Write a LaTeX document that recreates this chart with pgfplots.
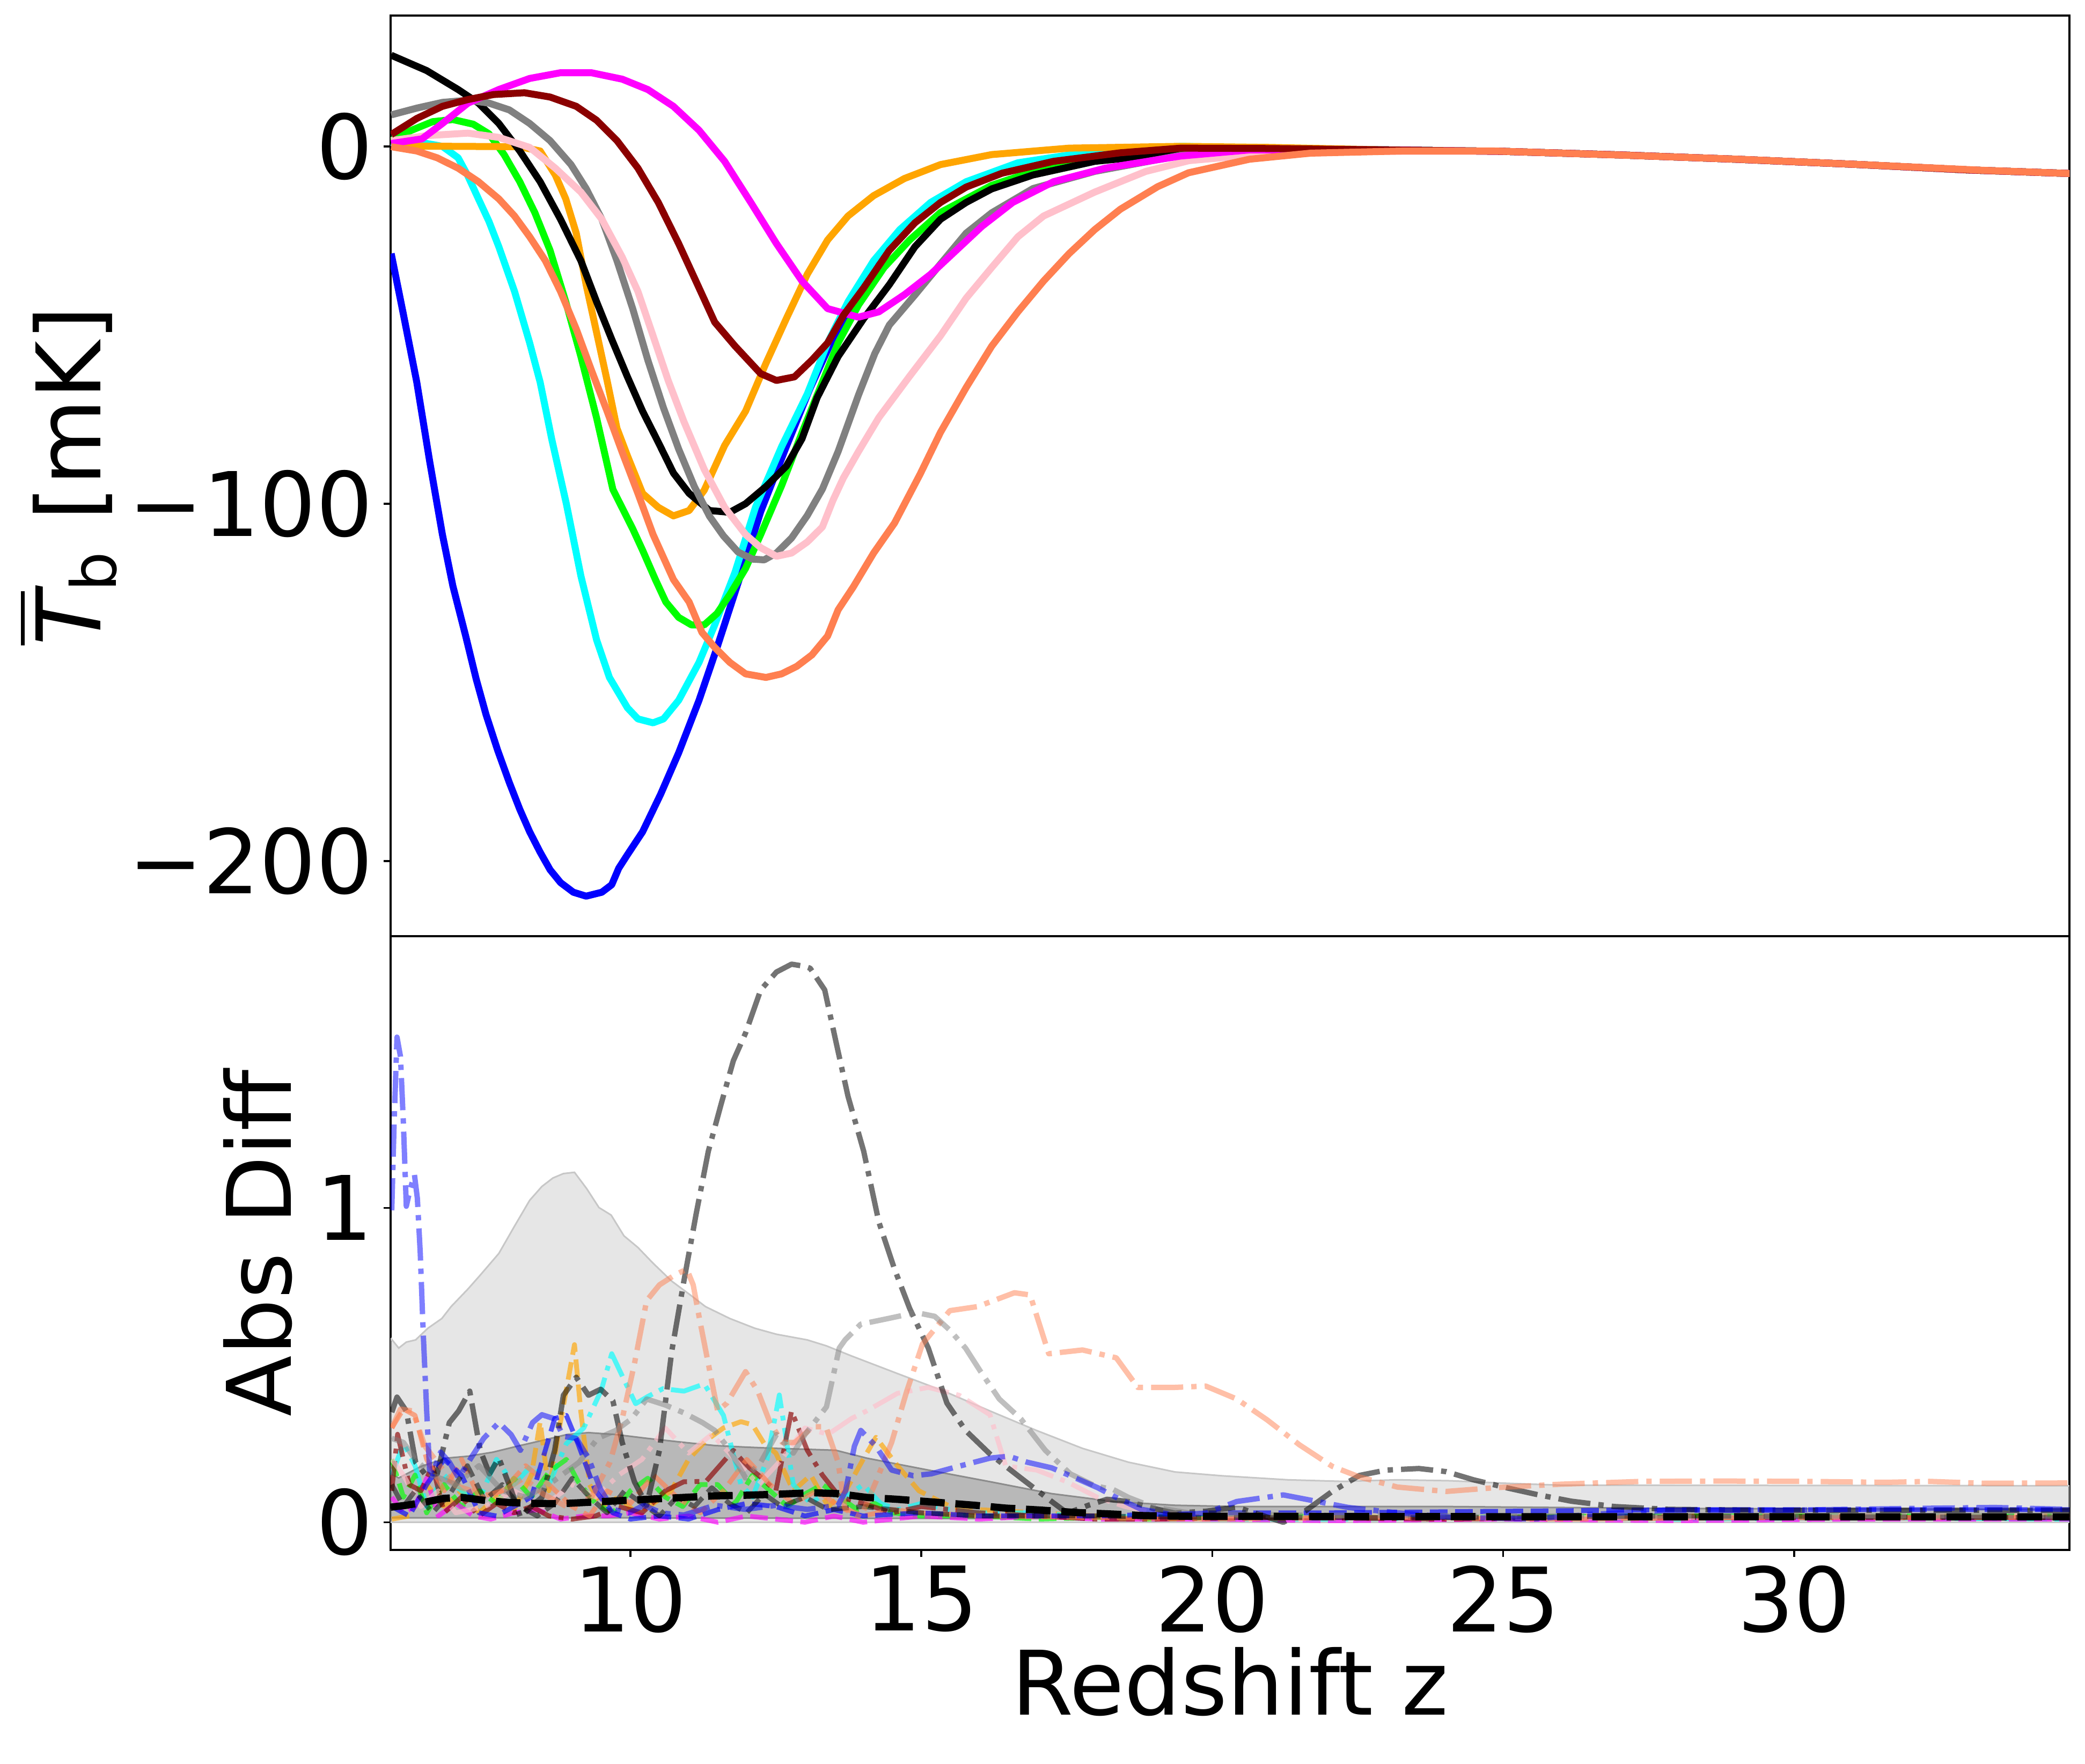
\documentclass[border=0pt]{standalone}
\usepackage{amsmath}
\usepackage{pgfplots}
\pgfplotsset{compat=1.18}
\usepackage{fontspec}
\setmainfont{DejaVu Sans}
\definecolor{mplorange}{HTML}{FFA500}
\definecolor{mplcoral}{HTML}{FF7F50}
\definecolor{mplpink}{HTML}{FFC0CB}
\definecolor{mplgray}{HTML}{808080}
\definecolor{mpldarkred}{HTML}{8B0000}
\definecolor{mpllime}{HTML}{00FF00}
\definecolor{mplcyan}{HTML}{00FFFF}
\definecolor{mplmagenta}{HTML}{FF00FF}
\definecolor{mplblue}{HTML}{0000FF}
\newcommand{\bigfont}{\fontsize{16.6}{20}\selectfont}
\pgfplotsset{
  common/.style={
    scale only axis, width=312.9pt,
    xmin=5.88, xmax=34.73,
    tick align=outside, xtick pos=left, ytick pos=left,
    major tick length=1.3pt,
    axis line style={line width=0.35pt},
    every tick/.style={black, line width=0.35pt},
    tick label style={font=\bigfont},
    label style={font=\bigfont, inner sep=0pt},
    yticklabel style={anchor=east, inner sep=0pt, xshift=-1.8pt},
    xticklabel style={anchor=north, inner sep=0pt, yshift=-1.4pt},
    minor tick num=0,
  },
  topline/.style={line width=1.3pt, line join=round},
  dd/.style={line width=1.0pt, line join=round, dash pattern=on 6pt off 1.5pt on 1pt off 1.5pt},
  nd/.style={line width=0.9pt, line join=round, opacity=0.65, dash pattern=on 3.3pt off 1.4pt},
  ndd/.style={line width=0.9pt, line join=round, opacity=0.65, dash pattern=on 5.6pt off 1.4pt on 0.9pt off 1.4pt},
}
\begin{document}
\bigfont
\begin{tikzpicture}[font=\bigfont]
\path (-72.8pt,2.9pt) rectangle (315.8pt,-325.9pt);
% ---------------- top panel ----------------
\begin{axis}[common,
  at={(0pt,0pt)}, anchor=north west, height=171.6pt,
  ymin=-221, ymax=36.6,
  xtick=\empty,
  ytick={-200,-100,0}, yticklabels={−200,−100,0},
  ylabel={$\overline{\text{\itshape T}}_{\text{b}}$ [mK]},
  ylabel style={at={(axis description cs:-0.1726,0.5)}, anchor=base},
]
\addplot[topline, mplblue] coordinates {(5.89,-30) (6.1,-47) (6.33,-66) (6.55,-88) (6.77,-108.6) (6.95,-123) (7.17,-137) (7.35,-149) (7.52,-159) (7.72,-169) (7.92,-178) (8.1,-185.5) (8.27,-191.8) (8.45,-197.5) (8.62,-202.4) (8.8,-206) (9.02,-208.7) (9.24,-209.8) (9.51,-208.7) (9.68,-206.6) (9.8,-202) (9.95,-198.2) (10.21,-191.8) (10.52,-181.3) (10.83,-169.7) (11.18,-155) (11.49,-140.2) (11.89,-120.2) (12.24,-102.2) (12.68,-84) (13.08,-68) (13.5,-53) (14.1,-36) (14.63,-24.3) (15.33,-14.7) (16.2,-8) (17.1,-4.2) (18.2,-1.8) (19.46,-0.5) (21,-0.6) (23,-1.0) (25,-1.4) (27,-2.4) (29,-3.6) (31,-5.0) (33,-6.6) (34.75,-7.6)};
\addplot[topline, mplcyan] coordinates {(5.89,1.1) (6.15,0.3) (6.5,0.8) (6.77,0) (7.04,-3.2) (7.2,-8) (7.39,-14.7) (7.57,-21) (7.74,-28.1) (8.01,-40.6) (8.27,-55) (8.45,-66) (8.65,-82) (8.9,-100) (9.15,-120.2) (9.42,-138.1) (9.64,-148.6) (9.95,-157.1) (10.13,-160.2) (10.39,-161.3) (10.57,-160.2) (10.83,-155) (11.18,-144.4) (11.45,-133.9) (11.8,-119.1) (12.15,-101) (12.6,-84) (13.04,-69.3) (13.39,-55) (13.74,-43.5) (14.18,-32) (14.63,-23.3) (15.16,-15.7) (15.77,-9.9) (16.66,-4.6) (17.98,-1.3) (19.46,0) (21,-0.5) (23,-1.0) (25,-1.4) (27,-2.4) (29,-3.6) (31,-5.0) (33,-6.6) (34.75,-7.6)};
\addplot[topline, mpllime] coordinates {(5.89,1.6) (6.24,4.5) (6.6,6.9) (6.95,7.5) (7.3,6.2) (7.57,3.5) (7.83,-2.3) (8.1,-9.9) (8.36,-18.6) (8.62,-29.1) (8.89,-43.5) (9.15,-58.8) (9.42,-76) (9.7,-96) (10.04,-107) (10.21,-113) (10.43,-121.2) (10.61,-127.5) (10.83,-131.8) (11.05,-133.9) (11.27,-133.9) (11.49,-130.7) (11.71,-125.4) (11.98,-118.1) (12.24,-108.6) (12.6,-94.9) (12.95,-80.1) (13.3,-66) (13.57,-55) (13.92,-44.4) (14.36,-33.9) (14.8,-26.2) (15.33,-18.5) (16.21,-10.9) (17.1,-6.1) (18.42,-2.3) (19.46,-1) (21,-0.7) (23,-1.0) (25,-1.4) (27,-2.4) (29,-3.6) (31,-5.0) (33,-6.6) (34.75,-7.6)};
\addplot[topline, mplorange] coordinates {(5.89,0.1) (7.0,0.0) (8.1,-0.1) (8.45,-1.3) (8.71,-8) (8.89,-14.7) (9.07,-24.3) (9.24,-38.7) (9.42,-52.1) (9.6,-65.5) (9.77,-78.9) (9.95,-86.6) (10.21,-97.1) (10.48,-101) (10.74,-103.4) (11.01,-101.9) (11.27,-96.2) (11.62,-83.7) (11.98,-74.1) (12.33,-60.7) (12.68,-48.2) (13.04,-35.8) (13.39,-26.2) (13.74,-19.5) (14.18,-13.8) (14.71,-9) (15.33,-5.1) (16.21,-2.3) (17.54,-0.5) (19.46,0) (21,-0.3) (23,-1.0) (25,-1.4) (27,-2.4) (29,-3.6) (31,-5.0) (33,-6.6) (34.75,-7.6)};
\addplot[topline, black] coordinates {(5.89,25.5) (6.5,21.2) (7.04,15.9) (7.39,12.1) (7.74,6.4) (8.1,-1.3) (8.45,-9.9) (8.8,-20.4) (9.15,-32) (9.42,-43.5) (9.68,-54) (9.95,-64.5) (10.21,-74.1) (10.48,-82.8) (10.74,-91.4) (11.01,-97.1) (11.36,-101.9) (11.71,-102.4) (11.98,-100) (12.33,-95.2) (12.68,-89.5) (12.95,-81.8) (13.21,-70.3) (13.57,-58.8) (14.01,-48.2) (14.45,-38.7) (14.89,-28.1) (15.33,-20.4) (15.77,-15.7) (16.21,-11.9) (16.92,-8) (17.98,-4.2) (19.46,-1.8) (21,-0.9) (23,-1.0) (25,-1.4) (27,-2.4) (29,-3.6) (31,-5.0) (33,-6.6) (34.75,-7.6)};
\addplot[topline, mplgray] coordinates {(5.89,8.8) (6.33,10.7) (6.77,12.3) (7.21,12.9) (7.57,12.1) (7.92,10.2) (8.27,6.4) (8.62,1.6) (8.98,-5.1) (9.24,-11.8) (9.51,-20.4) (9.77,-32) (10.04,-45.4) (10.3,-59.8) (10.57,-73.2) (10.83,-84.7) (11.1,-95.2) (11.36,-103.5) (11.6,-109) (11.85,-113.5) (12.1,-115.5) (12.3,-115.7) (12.51,-113.8) (12.77,-109.6) (13.04,-103.3) (13.3,-95.9) (13.57,-85.4) (13.92,-69.6) (14.2,-58) (14.45,-50) (14.89,-41.6) (15.33,-32.9) (15.77,-24.3) (16.21,-18.6) (16.92,-11.8) (17.98,-7) (19.46,-2.5) (20.12,-1.2) (21.5,-0.9) (23,-1.0) (25,-1.4) (27,-2.4) (29,-3.6) (31,-5.0) (33,-6.6) (34.75,-7.6)};
\addplot[topline, mplpink] coordinates {(5.89,1.6) (6.5,3) (7.21,3.7) (7.74,2.5) (8.27,-0.3) (8.71,-6.1) (9.15,-12.8) (9.51,-20.4) (9.86,-31) (10.13,-40.6) (10.39,-53) (10.65,-65.5) (10.92,-77) (11.27,-90.4) (11.62,-101) (11.98,-108.6) (12.24,-112.3) (12.51,-114.7) (12.77,-113.8) (13.04,-110.7) (13.3,-106.5) (13.48,-99.1) (13.66,-92.8) (13.92,-85.4) (14.27,-75.9) (14.8,-64.3) (15.33,-53) (15.77,-42.5) (16.21,-33.9) (16.66,-25.3) (17.1,-19.5) (17.98,-12.8) (18.86,-7) (19.6,-4) (20.64,-2.5) (21.69,-1.9) (22.74,-1.4) (25,-1.4) (27,-2.4) (29,-3.6) (31,-5.0) (33,-6.6) (34.75,-7.6)};
\addplot[topline, mplmagenta] coordinates {(5.89,0.8) (6.42,2.1) (6.77,6.4) (7.21,12.1) (7.74,15.9) (8.27,19) (8.8,20.6) (9.33,20.6) (9.86,18.8) (10.3,15.9) (10.74,11.2) (11.18,4.5) (11.62,-4.2) (12.07,-15.7) (12.51,-27.2) (12.95,-37.7) (13.39,-45.4) (13.92,-47.8) (14.27,-46.3) (14.71,-41.5) (15.16,-35.8) (15.6,-29.1) (16.04,-22.4) (16.57,-15.7) (17.27,-9.9) (18.16,-6.1) (19.46,-2.7) (20.64,-1.0) (23,-1.0) (25,-1.4) (27,-2.4) (29,-3.6) (31,-5.0) (33,-6.6) (34.75,-7.6)};
\addplot[topline, mpldarkred] coordinates {(5.89,3.3) (6.33,7.8) (6.77,11.2) (7.21,13.1) (7.65,14.5) (8.18,15) (8.62,13.8) (9.07,11.2) (9.42,7.3) (9.77,1.6) (10.13,-6.1) (10.48,-15.7) (10.83,-27.2) (11.18,-39.6) (11.45,-49.2) (11.8,-55.9) (12.24,-63.6) (12.51,-65.5) (12.82,-64.5) (13.12,-59.8) (13.39,-55) (13.66,-47.3) (14.01,-39.6) (14.45,-29.1) (14.89,-21.4) (15.33,-15.7) (15.77,-11.4) (16.39,-7.5) (17.27,-4.2) (18.42,-1.8) (19.46,-0.5) (21,-0.6) (23,-1.0) (25,-1.4) (27,-2.4) (29,-3.6) (31,-5.0) (33,-6.6) (34.75,-7.6)};
\addplot[topline, mplcoral] coordinates {(5.89,-0.1) (6.33,-1.3) (6.68,-3.2) (7.04,-6.1) (7.39,-9.9) (7.74,-14.7) (8.01,-19.5) (8.27,-25.3) (8.54,-32) (8.8,-40.6) (9.07,-51.1) (9.33,-62.6) (9.6,-74.1) (9.86,-85.6) (10.13,-97.1) (10.39,-108.6) (10.74,-121.2) (11.01,-127.5) (11.23,-136) (11.45,-140.2) (11.71,-144.4) (11.98,-147.6) (12.33,-148.6) (12.6,-147.6) (12.86,-145.5) (13.12,-142.3) (13.39,-137) (13.57,-129.7) (13.83,-123.3) (14.18,-113.8) (14.54,-105.4) (14.98,-91.7) (15.33,-80) (15.77,-67.5) (16.21,-55.9) (16.66,-46.3) (17.1,-37.7) (17.54,-30) (17.98,-23.3) (18.42,-17.6) (19.06,-11.3) (19.59,-7.4) (20.64,-3.6) (21.69,-1.9) (23.27,-1.3) (24.84,-1.3) (26.94,-2.4) (29.04,-3.6) (31.15,-5.1) (33.25,-6.7) (34.75,-7.6)};
\end{axis}
% ---------------- bottom panel ----------------
\begin{axis}[common,
  at={(0pt,-171.6pt)}, anchor=north west, height=114.4pt,
  ymin=-0.088, ymax=1.864,
  xtick={10,15,20,25,30}, xticklabels={10,15,20,25,30},
  ytick={0,1}, yticklabels={0,1},
  xlabel={Redshift z},
  xlabel style={at={(axis description cs:0.5,-0.2684)}, anchor=base},
  ylabel={Abs Diff},
  ylabel style={at={(axis description cs:-0.0594,0.5)}, anchor=base},
]
% bands
\addplot[fill=mplgray, fill opacity=0.2, draw=black!22, line width=0.3pt] coordinates {(5.88,0.586) (6.02,0.554) (6.15,0.573) (6.31,0.58) (6.52,0.617) (6.76,0.648) (6.92,0.686) (7.21,0.742) (7.42,0.786) (7.74,0.855) (8.01,0.942) (8.27,1.024) (8.48,1.068) (8.67,1.095) (8.85,1.109) (9.04,1.113) (9.25,1.061) (9.46,1.001) (9.67,0.977) (9.89,0.911) (10.13,0.874) (10.39,0.824) (10.71,0.767) (11.03,0.723) (11.29,0.686) (11.71,0.648) (12.14,0.617) (12.51,0.598) (13.04,0.58) (13.37,0.561) (13.8,0.529) (14.59,0.473) (15.39,0.417) (16.18,0.354) (16.98,0.292) (17.77,0.235) (18.56,0.191) (19.36,0.16) (20.15,0.148) (21.3,0.135) (22.25,0.13) (23.18,0.135) (24.1,0.132) (25.05,0.124) (25.98,0.118) (34.73,0.116) (34.73,0.0) (5.88,0.0) (5.88,0.586)};
\addplot[fill=mplgray, fill opacity=0.45, draw=black!45, line width=0.3pt] coordinates {(5.88,0.154) (6.02,0.141) (6.42,0.179) (6.84,0.204) (7.21,0.21) (7.64,0.223) (8.06,0.242) (8.48,0.26) (8.91,0.279) (9.28,0.285) (9.75,0.279) (10.28,0.267) (10.92,0.254) (11.45,0.244) (11.98,0.239) (12.51,0.235) (13.04,0.232) (13.53,0.229) (14.06,0.204) (15.12,0.166) (16.18,0.129) (17.24,0.091) (18.3,0.066) (19.36,0.054) (20.4,0.05) (24,0.05) (27.85,0.044) (34.73,0.041) (34.73,0.008) (22,0.009) (16,0.012) (10,0.014) (5.88,0.014) (5.88,0.154)};
% noisy per-model lines
\addplot[nd, mplorange] coordinates {(5.9,0.01) (6.2,0.02) (6.5,0.12) (6.8,0.05) (7.1,0.1) (7.4,0.03) (7.7,0.08) (8.0,0.04) (8.3,0.15) (8.45,0.32) (8.6,0.1) (8.8,0.32) (9.04,0.565) (9.15,0.35) (9.3,0.12) (9.5,0.05) (9.8,0.08) (10.1,0.03) (10.4,0.06) (10.7,0.1) (11.0,0.2) (11.3,0.26) (11.6,0.30) (11.9,0.32) (12.1,0.31) (12.3,0.25) (12.5,0.22) (12.8,0.1) (13.1,0.15) (13.4,0.05) (13.7,0.1) (14.0,0.2) (14.22,0.27) (14.59,0.18) (14.96,0.1) (15.5,0.05) (16,0.04) (17,0.03) (18,0.02) (19,0.01) (20,0.02) (22,0.02) (25,0.015) (28,0.02) (31,0.02) (34.73,0.02)};
\addplot[ndd, mplcyan] coordinates {(5.9,0.15) (6.1,0.25) (6.3,0.18) (6.5,0.05) (6.8,0.15) (7.1,0.1) (7.4,0.07) (7.7,0.2) (8.0,0.12) (8.3,0.18) (8.6,0.12) (8.9,0.25) (9.2,0.3) (9.5,0.42) (9.68,0.536) (9.9,0.45) (10.09,0.377) (10.3,0.4) (10.56,0.425) (10.92,0.417) (11.27,0.44) (11.6,0.34) (11.9,0.12) (12.1,0.08) (12.35,0.2) (12.56,0.405) (12.8,0.12) (13.1,0.06) (13.4,0.1) (13.7,0.08) (14.0,0.12) (14.3,0.06) (14.6,0.04) (15.0,0.06) (15.5,0.04) (16,0.03) (17,0.03) (18,0.015) (19,0.02) (20,0.01) (22,0.01) (25,0.015) (28,0.01) (31,0.015) (34.73,0.01)};
\addplot[nd, mpllime] coordinates {(5.9,0.2) (6.1,0.08) (6.3,0.15) (6.5,0.03) (6.8,0.12) (7.1,0.05) (7.4,0.1) (7.7,0.06) (8.0,0.14) (8.3,0.08) (8.6,0.16) (8.9,0.2) (9.1,0.13) (9.4,0.06) (9.7,0.03) (10.0,0.1) (10.3,0.14) (10.6,0.08) (10.9,0.05) (11.2,0.12) (11.5,0.12) (11.8,0.06) (12.1,0.15) (12.4,0.1) (12.7,0.05) (13.0,0.09) (13.3,0.12) (13.6,0.08) (13.9,0.04) (14.2,0.06) (14.5,0.03) (15,0.02) (16,0.02) (17,0.01) (18,0.015) (19,0.01) (21,0.02) (24,0.015) (27,0.02) (30,0.02) (34.73,0.02)};
\addplot[nd, mplmagenta] coordinates {(5.9,0.08) (6.1,0.03) (6.3,0.05) (6.5,0.14) (6.7,0.02) (7.0,0.06) (7.3,0.02) (7.6,0.01) (8.0,0.03) (8.4,0.04) (8.8,0.01) (9.2,0.02) (9.6,0.02) (10.0,0.03) (10.5,0.01) (11,0.02) (11.5,0.0) (12,0.02) (12.5,0.01) (13,0.0) (13.5,0.02) (14,0.0) (14.5,0.01) (15,0.02) (16,0.01) (17,0.02) (18,0.01) (20,0.01) (22,0.005) (25,0.01) (28,0.005) (31,0.01) (34.73,0.01)};
\addplot[ndd, mpldarkred] coordinates {(5.9,0.1) (6.0,0.28) (6.2,0.12) (6.4,0.1) (6.6,0.18) (6.8,0.03) (7.1,0.08) (7.4,0.02) (7.7,0.06) (8.0,0.03) (8.3,0.05) (8.6,0.02) (9.0,0.01) (9.4,0.02) (9.8,0.05) (10.2,0.03) (10.6,0.1) (10.92,0.129) (11.3,0.13) (11.77,0.229) (12.0,0.18) (12.2,0.15) (12.5,0.1) (12.77,0.354) (13.04,0.229) (13.3,0.15) (13.6,0.08) (14.0,0.06) (14.5,0.03) (15,0.05) (16,0.03) (17,0.02) (18,0.01) (19,0.01) (21,0.015) (24,0.01) (27,0.015) (30,0.015) (34.73,0.015)};
\addplot[ndd, mplpink] coordinates {(5.9,0.2) (6.1,0.15) (6.4,0.05) (6.7,0.1) (7.0,0.03) (7.5,0.05) (8,0.1) (8.5,0.05) (9.0,0.12) (9.4,0.08) (9.8,0.15) (10.2,0.2) (10.6,0.3) (11.0,0.22) (11.4,0.28) (11.8,0.2) (12.2,0.12) (12.6,0.2) (13.0,0.3) (13.4,0.28) (13.8,0.33) (14.06,0.354) (14.59,0.41) (15.12,0.429) (15.65,0.404) (16.18,0.342) (16.45,0.179) (16.98,0.166) (17.5,0.129) (18.03,0.079) (18.5,0.05) (19,0.03) (20,0.02) (22,0.02) (25,0.015) (28,0.015) (31,0.02) (34.73,0.02)};
\addplot[nd, mplcoral] coordinates {(5.9,0.3) (6.1,0.36) (6.3,0.34) (6.5,0.2) (6.8,0.1) (7.1,0.2) (7.4,0.08) (7.8,0.1) (8.2,0.18) (8.6,0.12) (9.0,0.05) (9.3,0.02) (9.6,0.1) (10.0,0.06) (10.4,0.15) (10.8,0.08) (11.2,0.03) (11.6,0.1) (12.0,0.2) (12.4,0.12) (12.8,0.06) (13.2,0.1) (13.6,0.05) (14.0,0.02) (14.5,0.04) (15,0.03) (16,0.02) (18,0.015) (20,0.01) (23,0.015) (26,0.01) (30,0.015) (34.73,0.015)};
\addplot[nd, mplblue] coordinates {(5.9,0.05) (6.2,0.02) (6.5,0.12) (6.8,0.2) (7.1,0.15) (7.4,0.03) (7.7,0.02) (8.0,0.05) (8.3,0.08) (8.7,0.33) (8.9,0.34) (9.1,0.25) (9.4,0.1) (9.7,0.03) (10,0.01) (10.5,0.02) (11,0.01) (11.5,0.04) (12,0.06) (12.5,0.05) (13.0,0.02) (13.5,0.04) (14,0.02) (15,0.03) (16,0.02) (18,0.02) (20,0.03) (22,0.03) (25,0.035) (28,0.04) (31,0.04) (34.73,0.04)};
\addplot[nd, black, opacity=0.5] coordinates {(5.9,0.12) (6.1,0.05) (6.3,0.1) (6.6,0.03) (6.9,0.09) (7.2,0.18) (7.5,0.07) (7.8,0.12) (8.1,0.05) (8.4,0.02) (8.7,0.06) (9.0,0.14) (9.3,0.08) (9.6,0.03) (9.9,0.1) (10.2,0.06) (10.5,0.02) (10.8,0.08) (11.1,0.05) (11.4,0.11) (11.7,0.06) (12.0,0.03) (12.3,0.09) (12.6,0.05) (13.0,0.08) (13.4,0.04) (14,0.05) (15,0.03) (16,0.02) (18,0.02) (20,0.015) (24,0.015) (28,0.02) (34.73,0.015)};
% prominent dash-dot lines
\addplot[dd, black, opacity=0.55] coordinates {(5.9,0.35) (5.99,0.398) (6.15,0.354) (6.31,0.191) (6.47,0.154) (6.68,0.154) (6.89,0.317) (7.05,0.354) (7.24,0.417) (7.42,0.229) (7.58,0.154) (7.74,0.204) (7.95,0.104) (8.11,0.016) (8.32,0.054) (8.48,0.079) (8.7,0.229) (8.85,0.404) (9.07,0.461) (9.28,0.404) (9.49,0.423) (9.7,0.386) (9.86,0.254) (10.07,0.129) (10.28,0.054) (10.5,0.229) (10.71,0.542) (10.92,0.767) (11.13,0.98) (11.34,1.18) (11.56,1.33) (11.77,1.468) (11.98,1.556) (12.24,1.693) (12.51,1.75) (12.77,1.775) (13.0,1.768) (13.09,1.762) (13.34,1.693) (13.53,1.531) (13.74,1.355) (14.01,1.18) (14.27,0.955) (14.54,0.805) (14.8,0.68) (15.12,0.554) (15.44,0.379) (15.76,0.292) (16.18,0.217) (16.71,0.141) (17.24,0.066) (17.51,0.029) (17.87,0.054) (18.19,0.073) (18.56,0.066) (18.99,0.044) (19.36,0.029) (19.89,0.035) (20.42,0.048) (21.22,0.0) (21.6,0.036) (22.06,0.098) (22.53,0.149) (22.99,0.166) (23.55,0.171) (24.02,0.161) (24.49,0.135) (25.05,0.11) (25.61,0.087) (26.17,0.067) (26.91,0.05) (27.85,0.041) (29.71,0.038) (34.73,0.038)};
\addplot[dd, mplcoral, opacity=0.5] coordinates {(5.9,0.3) (6.05,0.36) (6.26,0.354) (6.47,0.242) (6.68,0.191) (7.0,0.116) (7.21,0.104) (7.48,0.079) (7.85,0.104) (8.17,0.141) (8.5,0.09) (8.9,0.05) (9.33,0.079) (9.65,0.191) (9.86,0.329) (10.07,0.504) (10.28,0.705) (10.5,0.755) (10.76,0.786) (10.97,0.805) (11.08,0.755) (11.18,0.655) (11.34,0.504) (11.5,0.354) (11.66,0.379) (11.98,0.479) (12.19,0.417) (12.4,0.317) (12.61,0.254) (12.83,0.254) (13.14,0.304) (13.36,0.304) (13.57,0.191) (13.69,0.041) (13.96,0.016) (14.22,0.129) (14.49,0.254) (14.75,0.417) (15.02,0.567) (15.49,0.673) (15.97,0.686) (16.6,0.73) (16.87,0.723) (17.19,0.536) (17.77,0.548) (18.35,0.523) (18.72,0.429) (19.36,0.429) (19.89,0.433) (20.42,0.392) (20.94,0.326) (21.5,0.246) (22.06,0.178) (22.53,0.144) (23.18,0.112) (24.02,0.098) (24.86,0.11) (25.98,0.121) (27.38,0.13) (28.78,0.131) (30.18,0.13) (31.58,0.127) (32.32,0.13) (33.25,0.124) (34.73,0.125)};
\addplot[dd, mplgray, opacity=0.5] coordinates {(5.9,0.267) (6.1,0.254) (6.3,0.2) (6.6,0.15) (7.0,0.12) (7.4,0.18) (7.8,0.1) (8.2,0.08) (8.6,0.12) (9.12,0.191) (9.44,0.267) (9.75,0.292) (10.02,0.329) (10.28,0.392) (10.6,0.373) (10.92,0.348) (11.24,0.317) (11.45,0.292) (11.71,0.229) (11.98,0.141) (12.24,0.191) (12.51,0.279) (12.8,0.22) (13.0,0.279) (13.37,0.367) (13.59,0.554) (13.69,0.58) (13.96,0.63) (14.43,0.648) (14.91,0.667) (15.23,0.655) (15.49,0.611) (15.76,0.554) (16.02,0.479) (16.34,0.392) (16.71,0.329) (17.13,0.229) (17.56,0.154) (17.98,0.116) (18.3,0.104) (18.56,0.079) (18.99,0.048) (19.62,0.029) (21.31,0.023) (25,0.02) (30,0.02) (34.73,0.02)};
\addplot[dd, mplblue, opacity=0.5] coordinates {(5.9,0.992) (5.94,1.268) (5.99,1.543) (6.05,1.481) (6.1,1.268) (6.15,1.005) (6.21,1.055) (6.29,1.105) (6.34,1.03) (6.39,0.855) (6.44,0.605) (6.5,0.354) (6.55,0.166) (6.6,0.154) (6.74,0.223) (6.89,0.191) (7.05,0.141) (7.26,0.204) (7.48,0.267) (7.74,0.317) (7.95,0.279) (8.11,0.229) (8.32,0.317) (8.48,0.342) (8.7,0.329) (8.85,0.273) (9.07,0.267) (9.28,0.204) (9.49,0.104) (9.7,0.041) (9.97,0.029) (10.23,0.054) (10.55,0.029) (10.92,0.023) (11.45,0.054) (11.98,0.041) (12.51,0.054) (13.04,0.041) (13.57,0.054) (13.7,0.1) (13.85,0.242) (13.96,0.292) (14.22,0.242) (14.49,0.166) (14.86,0.148) (15.17,0.154) (15.54,0.173) (16.18,0.204) (16.5,0.21) (16.82,0.191) (17.24,0.173) (17.56,0.148) (18.03,0.11) (18.35,0.079) (18.78,0.041) (19.36,0.023) (19.89,0.029) (20.42,0.066) (21.22,0.087) (21.78,0.067) (22.34,0.047) (23.18,0.03) (24.11,0.016) (25.51,0.01) (26.5,0.025) (27.85,0.038) (29.71,0.038) (32.04,0.044) (33.44,0.047) (34.73,0.041)};
% mean
\addplot[black, line width=1.35pt, dash pattern=on 4.6pt off 2pt] coordinates {(5.88,0.048) (6.15,0.054) (6.47,0.064) (6.79,0.076) (7.11,0.079) (7.48,0.07) (7.9,0.063) (8.38,0.06) (8.8,0.059) (9.33,0.064) (9.86,0.069) (10.39,0.074) (10.92,0.079) (11.45,0.084) (11.98,0.086) (12.51,0.089) (13.14,0.094) (13.57,0.091) (14.06,0.079) (14.59,0.073) (15.23,0.064) (15.92,0.054) (16.45,0.045) (17.03,0.039) (17.66,0.031) (18.3,0.026) (18.83,0.021) (19.62,0.019) (20.68,0.019) (22,0.018) (34.73,0.017)};
\end{axis}
\end{tikzpicture}
\end{document}
